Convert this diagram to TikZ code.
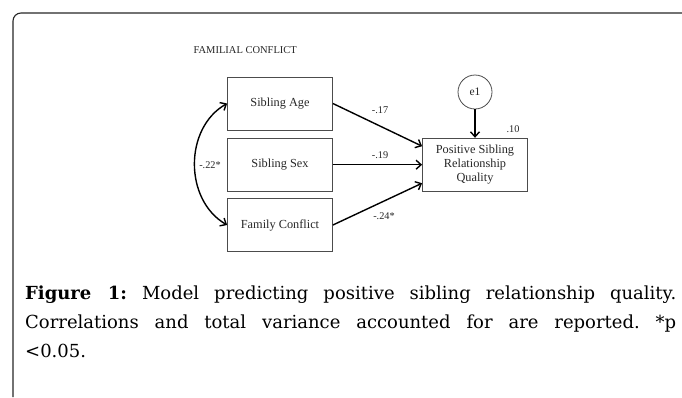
\documentclass[tikz,border=0pt]{standalone}
\usepackage{fontspec}
\newfontfamily\diagfont{Liberation Serif}
\newfontfamily\capfont{DejaVu Serif}
\usetikzlibrary{arrows.meta,calc}
\begin{document}
\begin{tikzpicture}[x=1pt,y=-1pt,
  varbox/.style={draw=black!70,line width=0.8pt,minimum width=105pt,minimum height=53pt,inner sep=2pt,font=\diagfont\fontsize{12.3}{13.8}\selectfont,text=black!85,align=center},
  path/.style={draw=black,line width=1.4pt,-{Straight Barb[length=5pt,width=9pt,line width=1.4pt]}},
  coef/.style={font=\diagfont\fontsize{10.3}{12}\selectfont,text=black!85}]
\useasboundingbox (0,0) rectangle (682,397);
\draw[line width=1.1pt,black!85,rounded corners=8pt] (13,397) -- (13,13) -- (682,13);
\node[anchor=west,font=\diagfont\fontsize{10.5}{11}\selectfont,text=black!85] (title) at (190,50) {FAMILIAL CONFLICT};
\node[varbox] (sa) at (280,103.5) {Sibling Age};
\node[varbox] (ss) at (280,164.7) {Sibling Sex};
\node[varbox] (fc) at (280,225) {Family Conflict};
\node[varbox] (out) at (475,164.7) {Positive Sibling\\Relationship\\Quality};
\node[draw=black!70,line width=0.8pt,circle,minimum size=34pt,inner sep=0pt,font=\diagfont\fontsize{11.5}{13}\selectfont,text=black!85] (e1) at (475,92) {e1};
\draw[path] (e1.south) -- (out.north);
\draw[path] (sa.east) -- ($(out.west)+(0,-18.5)$);
\draw[path] (ss.east) -- (out.west);
\draw[path] (fc.east) -- ($(out.west)+(0,18.5)$);
\draw[line width=1.4pt,{Straight Barb[length=5pt,width=9pt,line width=1.4pt]}-{Straight Barb[length=5pt,width=9pt,line width=1.4pt]}] (sa.west) .. controls (184,128) and (184,200) .. (fc.west);
\node[coef] (l1) at (380,110) {-.17};
\node[coef] (l2) at (380,155) {-.19};
\node[coef] (l3) at (384,216) {-.24*};
\node[coef] (l4) at (210,165) {-.22*};
\node[coef] (l5) at (513,129) {.10};
\node[anchor=base west,text width=651pt,align=justify,inner sep=0pt,font=\capfont\fontsize{18}{29}\selectfont\frenchspacing] (cap) at (25,299)
 {\textbf{Figure 1:} Model predicting positive sibling relationship quality.\linebreak Correlations and total variance accounted for are reported. *p\linebreak \mbox{<0.05.}};
\end{tikzpicture}
\end{document}
